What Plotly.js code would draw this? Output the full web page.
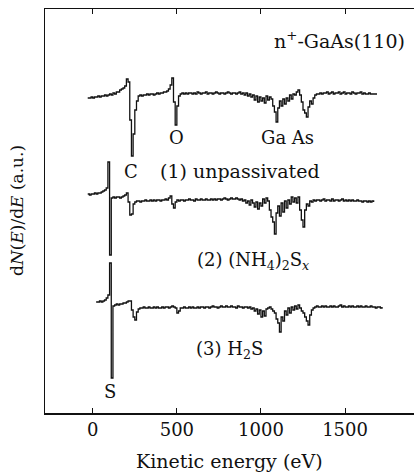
<!DOCTYPE html>
<html>
<head>
<meta charset="utf-8">
<script src="https://cdn.plot.ly/plotly-3.0.1.min.js"></script>
<style>html,body{margin:0;padding:0;background:#fff;}#chart{width:414px;height:472px;}</style>
</head>
<body>
<div id="chart"></div>
<script>
// Kinetic energy grid (eV)
var energy = [
  -30,-20,-10,
  0,10,20,30,40,50,60,70,80,90,
  100,110,120,130,140,150,160,170,180,190,
  200,210,220,230,240,250,260,270,280,290,
  300,310,320,330,340,350,360,370,380,390,
  400,410,420,430,440,450,460,470,480,490,
  500,510,520,530,540,550,560,570,580,590,
  600,610,620,630,640,650,660,670,680,690,
  700,710,720,730,740,750,760,770,780,790,
  800,810,820,830,840,850,860,870,880,890,
  900,910,920,930,940,950,960,970,980,990,
  1000,1010,1020,1030,1040,1050,1060,1070,1080,1090,
  1100,1110,1120,1130,1140,1150,1160,1170,1180,1190,
  1200,1210,1220,1230,1240,1250,1260,1270,1280,1290,
  1300,1310,1320,1330,1340,1350,1360,1370,1380,1390,
  1400,1410,1420,1430,1440,1450,1460,1470,1480,1490,
  1500,1510,1520,1530,1540,1550,1560,1570,1580,1590,
  1600,1610,1620,1630,1640,1650,1660,1670,1680,1690,
  1700,1710,1720
];

// (1) unpassivated  dN/dE (a.u.)
var unpassivated = [
  0,0,1,
  0,1,1,2,1,2,2,3,2,3,
  4,3,5,4,6,6,8,9,10,12,
  19,16,-22,-58,-36,-12,-3,2,3,2,
  3,3,4,3,4,4,3,4,5,4,
  5,5,6,6,7,9,13,20,-4,-27,
  -8,2,4,5,4,5,4,5,5,4,
  5,4,6,5,4,5,5,6,4,5,
  5,4,5,6,5,4,5,5,4,5,
  6,5,4,5,5,4,5,6,4,5,
  3,5,2,4,1,3,-2,2,-4,1,
  -3,0,-5,2,-2,1,-1,-8,-14,-24,
  -10,-3,-8,-1,-6,0,-3,3,-1,4,
  3,6,8,3,-4,-12,-15,-19,-9,-3,
  -6,0,3,4,4,5,4,5,5,6,
  4,5,6,4,5,5,6,4,5,6,
  4,5,5,4,6,5,4,5,5,6,
  4,5,4,4,5,4,4,4,4,4,
  null,null,null
];

// (2) (NH4)2Sx
var nh4s = [
  4,3,4,
  4,5,4,5,5,6,7,8,10,36,
  -57,0,1,0,1,1,0,1,2,3,
  5,-4,-17,-16,-6,-4,-3,-3,-4,-3,
  -3,-2,-3,-3,-2,-3,-2,-3,-2,-2,
  -3,-2,-2,-1,-2,0,2,-6,-10,-4,
  -2,-3,-2,-2,-3,-2,-2,-1,-2,-2,
  -3,-1,-2,-2,-1,-2,-2,-1,-2,-2,
  -1,-2,-1,-2,-1,-1,-2,-1,0,-1,
  -2,-1,0,-1,-1,0,-1,-2,-1,-3,
  -2,-5,-3,-7,-2,-5,-9,-4,-11,-5,
  -8,-1,-5,0,-3,-12,-19,-24,-36,-15,
  -8,-18,-5,-14,-3,-10,-2,-6,1,-4,
  0,-5,1,-12,-22,-29,-12,-6,-8,-3,
  -4,-2,-3,-2,-2,-3,-2,-1,-3,-2,
  -2,-3,-1,-3,-2,-2,-3,-2,-1,-3,
  -2,-3,-2,-3,-2,-3,-3,-2,-3,-3,
  -4,-3,-3,-4,-3,-4,-3,-4,null,null,
  null,null,null
];

// (3) H2S
var h2s = [
  null,null,null,
  null,null,3,3,4,3,4,5,7,10,
  42,-73,-1,0,1,0,1,1,2,2,
  3,4,4,-5,-12,-15,-7,-4,-3,-3,
  -2,-3,-3,-2,-3,-3,-2,-3,-2,-3,
  -3,-2,-3,-2,-2,-3,-2,-1,-2,-3,
  -8,-6,-3,-3,-2,-3,-3,-2,-3,-2,
  -3,-3,-2,-3,-2,-2,-3,-2,-2,-3,
  -2,-1,-2,-2,-3,-2,-1,-2,-2,-1,
  -2,-2,-1,-2,-2,-3,-1,-2,-2,-3,
  -2,-2,-3,-2,-4,-3,-6,-4,-9,-5,
  -12,-6,-11,-4,-3,-2,-4,-6,-8,-14,
  -18,-27,-12,-16,-6,-10,-3,-8,-2,-5,
  -1,-4,0,-3,-6,-8,-12,-16,-20,-10,
  -5,-3,-2,-1,-2,-2,-1,-2,-1,-2,
  -2,-1,-2,-1,-2,-2,-1,0,-2,-1,
  -2,-2,-1,-2,-1,-2,-2,-1,-2,-1,
  -2,-2,-1,-2,-2,-1,-2,-2,-3,-2,
  -2,-3,-2
];

var xTicks = [0, 500, 1000, 1500];
var xTickLabels = ['0', '500', '1000', '1500'];

var series = [unpassivated, nh4s, h2s];
var offsets = [315, 215, 108];

var traces = series.map(function (vals, k) {
  return {
    x: energy,
    y: vals.map(function (v) { return v === null ? null : v + offsets[k]; }),
    type: 'scatter',
    mode: 'lines',
    connectgaps: false,
    line: {color: '#111', width: 1.3, shape: 'hv'},
    hoverinfo: 'skip'
  };
});

var F = 'DejaVu Serif, Liberation Serif, serif';
function ann(text, x, y, size, extra) {
  var a = {text: text, x: x, y: y, xref: 'x', yref: 'y', showarrow: false,
           font: {family: F, size: size, color: '#111'}, xanchor: 'center', yanchor: 'middle'};
  for (var k in extra) a[k] = extra[k];
  return a;
}

var layout = {
  width: 414, height: 472,
  margin: {l: 45, r: 0, t: 9, b: 59},
  paper_bgcolor: '#fff', plot_bgcolor: '#fff',
  showlegend: false,
  font: {family: F, color: '#111'},
  xaxis: {
    range: [-284, 1910],
    tickmode: 'array', tickvals: xTicks, ticktext: xTickLabels,
    ticks: 'inside', ticklen: 5, tickwidth: 1, tickcolor: '#111',
    showline: true, linewidth: 1.5, linecolor: '#111', mirror: 'ticks',
    showgrid: false, zeroline: false,
    tickfont: {family: F, size: 18, color: '#111'}
  },
  yaxis: {
    range: [0, 404],
    showticklabels: false, ticks: '',
    showline: true, linewidth: 1.5, linecolor: '#111', mirror: false,
    showgrid: false, zeroline: false
  },
  annotations: [
    ann('n<sup>+</sup>-GaAs(110)', 1468, 373, 19),
    ann('C', 228, 242, 18),
    ann('O', 499, 276, 18),
    ann('Ga As', 1160, 276, 18),
    ann('(1) unpassivated', 877, 242, 19),
    ann('(2) (NH<sub>4</sub>)<sub>2</sub>S<sub><i>x</i></sub>', 950, 152, 18),
    ann('(3) H<sub>2</sub>S', 815, 63, 18),
    ann('S', 103, 22, 18),
    {text: 'Kinetic energy (eV)', xref: 'paper', yref: 'paper', x: 0.5, y: 0, yshift: -48,
     showarrow: false, xanchor: 'center', yanchor: 'middle', font: {family: F, size: 19, color: '#111'}},
    {text: 'd<i>N</i>(<i>E</i>)/d<i>E</i> (a.u.)', xref: 'paper', yref: 'paper', x: 0, y: 0.5, xshift: -28,
     textangle: -90, showarrow: false, xanchor: 'center', yanchor: 'middle', font: {family: F, size: 17, color: '#111'}}
  ]
};

Plotly.newPlot('chart', traces, layout, {displayModeBar: false, staticPlot: true});
</script>
</body>
</html>
